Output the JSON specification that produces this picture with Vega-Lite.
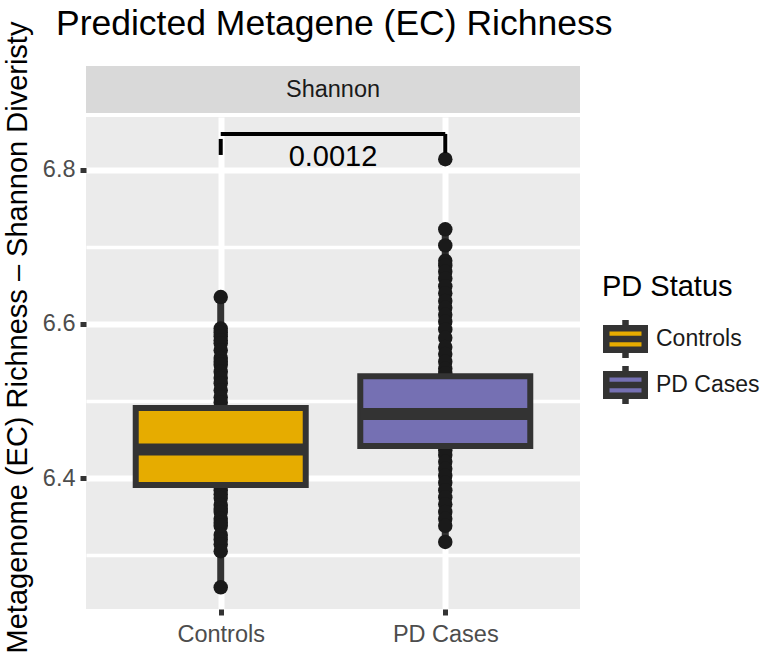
{
  "$schema": "https://vega.github.io/schema/vega-lite/v6.json",
  "background": "white",
  "padding": {"left": 3, "top": 6, "right": 0, "bottom": 0},
  "title": {"text": "Predicted Metagene (EC) Richness", "anchor": "start", "frame": "group", "dx": -30, "fontSize": 35.5, "fontWeight": "normal", "color": "#000000", "font": "Liberation Sans", "offset": -21},
  "config": {
    "font": "Liberation Sans",
    "view": {"stroke": null},
    "axis": {"domain": false, "grid": true, "gridColor": "#FFFFFF", "tickColor": "#333333", "tickSize": 6, "tickWidth": 5, "labelColor": "#4D4D4D", "labelFontSize": 23.5, "labelPadding": 5, "titleColor": "#000000", "titleFontSize": 29, "titleFontWeight": "normal", "labelFont": "Liberation Sans", "titleFont": "Liberation Sans"},
    "axisX": {"gridWidth": 6, "labelAngle": 0, "labelPadding": 7},
    "axisY": {"titlePadding": 10}
  },
  "datasets": {
    "summary": [
      {"group": "Controls", "lower": 6.258, "q1": 6.391, "median": 6.437, "q3": 6.491, "upper": 6.635},
      {"group": "PD Cases", "lower": 6.317, "q1": 6.4416, "median": 6.483, "q3": 6.532, "upper": 6.723}
    ],
    "points": [
      {"group": "Controls", "value": 6.635}, {"group": "Controls", "value": 6.594}, {"group": "Controls", "value": 6.589}, {"group": "Controls", "value": 6.584}, {"group": "Controls", "value": 6.579}, {"group": "Controls", "value": 6.575}, {"group": "Controls", "value": 6.566}, {"group": "Controls", "value": 6.556}, {"group": "Controls", "value": 6.551}, {"group": "Controls", "value": 6.547}, {"group": "Controls", "value": 6.538}, {"group": "Controls", "value": 6.53}, {"group": "Controls", "value": 6.523}, {"group": "Controls", "value": 6.514}, {"group": "Controls", "value": 6.505}, {"group": "Controls", "value": 6.498},
      {"group": "Controls", "value": 6.384}, {"group": "Controls", "value": 6.379}, {"group": "Controls", "value": 6.374}, {"group": "Controls", "value": 6.365}, {"group": "Controls", "value": 6.36}, {"group": "Controls", "value": 6.356}, {"group": "Controls", "value": 6.347}, {"group": "Controls", "value": 6.342}, {"group": "Controls", "value": 6.338}, {"group": "Controls", "value": 6.326}, {"group": "Controls", "value": 6.32}, {"group": "Controls", "value": 6.314}, {"group": "Controls", "value": 6.305}, {"group": "Controls", "value": 6.258},
      {"group": "PD Cases", "value": 6.814}, {"group": "PD Cases", "value": 6.723}, {"group": "PD Cases", "value": 6.702}, {"group": "PD Cases", "value": 6.682}, {"group": "PD Cases", "value": 6.676}, {"group": "PD Cases", "value": 6.668}, {"group": "PD Cases", "value": 6.659}, {"group": "PD Cases", "value": 6.649}, {"group": "PD Cases", "value": 6.64}, {"group": "PD Cases", "value": 6.63}, {"group": "PD Cases", "value": 6.621}, {"group": "PD Cases", "value": 6.612}, {"group": "PD Cases", "value": 6.603}, {"group": "PD Cases", "value": 6.593}, {"group": "PD Cases", "value": 6.582}, {"group": "PD Cases", "value": 6.57}, {"group": "PD Cases", "value": 6.561}, {"group": "PD Cases", "value": 6.551}, {"group": "PD Cases", "value": 6.542}, {"group": "PD Cases", "value": 6.536},
      {"group": "PD Cases", "value": 6.436}, {"group": "PD Cases", "value": 6.43}, {"group": "PD Cases", "value": 6.421}, {"group": "PD Cases", "value": 6.412}, {"group": "PD Cases", "value": 6.403}, {"group": "PD Cases", "value": 6.394}, {"group": "PD Cases", "value": 6.384}, {"group": "PD Cases", "value": 6.375}, {"group": "PD Cases", "value": 6.366}, {"group": "PD Cases", "value": 6.356}, {"group": "PD Cases", "value": 6.347}, {"group": "PD Cases", "value": 6.338}, {"group": "PD Cases", "value": 6.317}
    ],
    "bracket": [
      {"group": "Controls", "group_end": "PD Cases", "y_start": 6.8468, "y_end": 6.8468},
      {"group": "Controls", "group_end": "Controls", "y_start": 6.8403, "y_end": 6.8195},
      {"group": "PD Cases", "group_end": "PD Cases", "y_start": 6.8468, "y_end": 6.8221}
    ],
    "pvalue": [{"label": "0.0012", "y": 6.817}]
  },
  "bounds": "flush",
  "spacing": 4,
  "vconcat": [
    {
      "width": 494,
      "height": 47,
      "view": {"fill": "#D9D9D9", "stroke": null},
      "data": {"values": [{"panel": "Shannon"}]},
      "mark": {"type": "text", "fontSize": 23.5, "color": "#1A1A1A", "baseline": "middle", "font": "Liberation Sans"},
      "encoding": {"text": {"field": "panel", "type": "nominal"}}
    },
    {
      "width": 494,
      "height": 492,
      "view": {"fill": "#EBEBEB", "stroke": null},
      "layer": [
        {
          "data": {"name": "summary"},
          "mark": {"type": "rule", "strokeWidth": 7, "color": "#333333"},
          "encoding": {
            "x": {"field": "group", "type": "nominal", "title": null, "scale": {"type": "point", "padding": 0.6, "domain": ["Controls", "PD Cases"]}},
            "y": {"field": "lower", "type": "quantitative", "title": "Metagenome (EC) Richness – Shannon Diveristy",
                  "scale": {"domain": [6.2299, 6.8688], "nice": false, "zero": false},
                  "axis": {"values": [6.3, 6.4, 6.5, 6.6, 6.7, 6.8],
                           "labelExpr": "round(datum.value*10) % 2 === 0 ? format(datum.value, '.1f') : ''",
                           "gridWidth": {"condition": {"test": "round(datum.value*10) % 2 === 0", "value": 6}, "value": 3.5},
                           "tickOpacity": {"condition": {"test": "round(datum.value*10) % 2 === 0", "value": 1}, "value": 0},
                           "titleY": 220}},
            "y2": {"field": "upper"}
          }
        },
        {
          "data": {"name": "points"},
          "mark": {"type": "circle", "size": 210, "opacity": 1, "color": "#1A1A1A"},
          "encoding": {
            "x": {"field": "group", "type": "nominal", "title": null},
            "y": {"field": "value", "type": "quantitative", "title": "Metagenome (EC) Richness – Shannon Diveristy"}
          }
        },
        {
          "data": {"name": "summary"},
          "mark": {"type": "bar", "width": 170, "stroke": "#333333", "strokeWidth": 6},
          "encoding": {
            "x": {"field": "group", "type": "nominal", "title": null},
            "y": {"field": "q1", "type": "quantitative", "title": "Metagenome (EC) Richness – Shannon Diveristy"},
            "y2": {"field": "q3"},
            "color": {"field": "group", "type": "nominal",
                      "scale": {"domain": ["Controls", "PD Cases"], "range": ["#E6AC00", "#7570B3"]},
                      "legend": {"title": "PD Status", "orient": "none", "legendX": 516, "legendY": 207,
                                 "titleFontSize": 29, "titleFontWeight": "normal", "titleColor": "#000000", "titleFont": "Liberation Sans",
                                 "labelFontSize": 23, "labelColor": "#1A1A1A", "labelFont": "Liberation Sans",
                                 "symbolType": "M-1.283,-0.717H1.283V0.717H-1.283Z M-1.283,0H1.283 M0,-0.717V-1.27 M0,0.717V1.27",
                                 "symbolSize": 900, "symbolOffset": 5, "symbolStrokeColor": "#333333", "symbolStrokeWidth": 6.5, "symbolOpacity": 1,
                                 "labelOffset": 12, "titlePadding": 14, "clipHeight": 46, "rowPadding": 0}}
          }
        },
        {
          "data": {"name": "summary"},
          "mark": {"type": "tick", "thickness": 12, "size": 170, "color": "#333333", "orient": "horizontal", "opacity": 1},
          "encoding": {
            "x": {"field": "group", "type": "nominal", "title": null},
            "y": {"field": "median", "type": "quantitative", "title": "Metagenome (EC) Richness – Shannon Diveristy"}
          }
        },
        {
          "data": {"name": "bracket"},
          "mark": {"type": "rule", "strokeWidth": 4, "color": "#000000"},
          "encoding": {
            "x": {"field": "group", "type": "nominal", "title": null},
            "x2": {"field": "group_end"},
            "y": {"field": "y_start", "type": "quantitative", "title": "Metagenome (EC) Richness – Shannon Diveristy"},
            "y2": {"field": "y_end"}
          }
        },
        {
          "data": {"name": "pvalue"},
          "mark": {"type": "text", "fontSize": 29, "color": "#000000", "baseline": "middle", "font": "Liberation Sans"},
          "encoding": {
            "text": {"field": "label", "type": "nominal"},
            "y": {"field": "y", "type": "quantitative", "title": "Metagenome (EC) Richness – Shannon Diveristy"}
          }
        }
      ]
    }
  ]
}
